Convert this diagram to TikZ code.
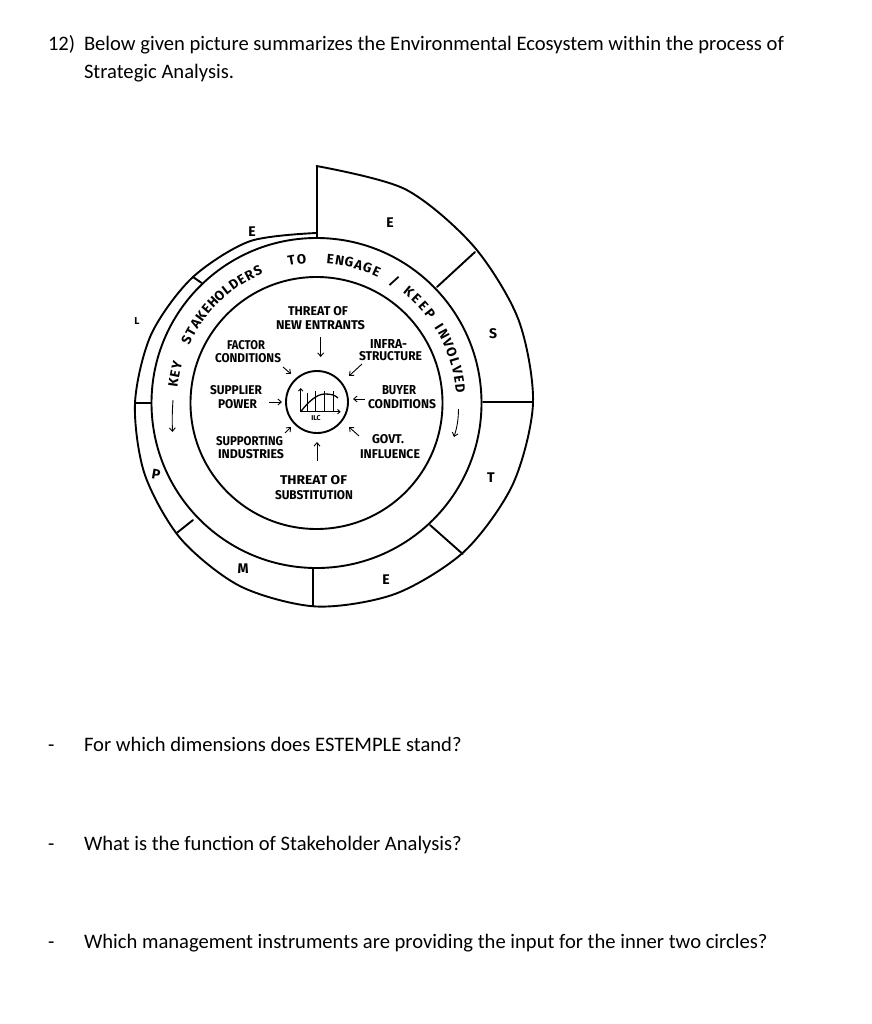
\documentclass[tikz,border=0pt]{standalone}
\usepackage{fontspec}
\usetikzlibrary{arrows.meta}
\setmainfont{Carlito}
\newfontfamily\hw{Fira Sans}
\newcommand{\hwlab}[5]{%
  \pgfmathsetmacro{\lblw}{#3-#2}%
  \pgfmathsetmacro{\lblx}{(#3+#2)/2}%
  \node[hand] (#1) at (\lblx,#4) {\resizebox{\lblw pt}{9pt}{\hw\bfseries #5}};}
\newcommand{\arcword}[5]{%
  \foreach \ch [count=\i from 0] in {#5} {
    \pgfmathsetmacro{\ang}{#2+(#3-#2)*\i/(#4-1)}
    \pgfmathsetmacro{\rot}{\ang-90}
    \node[ringletter,rotate=\rot] (#1\i) at ({316.5+144.5*cos(\ang)},{403-144.5*sin(\ang)}) {\ch};
  }}
\tikzset{
  ink/.style={line width=1.9pt,black,line join=round,line cap=round},
  thin ink/.style={line width=0.9pt,black,-{Straight Barb[length=3.5pt,width=6pt]}},
  hand/.style={inner sep=0pt,outer sep=0pt,anchor=center},
  body/.style={inner sep=0pt,outer sep=0pt,anchor=base west,font=\fontsize{20.6}{24}\selectfont},
  letter/.style={inner sep=0pt,font=\hw\bfseries\fontsize{14}{15}\selectfont},
  ringletter/.style={inner sep=0pt,font=\hw\bfseries\fontsize{13.5}{14}\selectfont}
}
\begin{document}
\begin{tikzpicture}[x=1pt,y=-1pt]
\useasboundingbox (0,0) rectangle (871,1024);
% text
\node[body] (q0) at (48,51) {12)};
\node[body] (q1) at (84,51) {Below given picture summarizes the Environmental Ecosystem within the process of};
\node[body] (q2) at (84,79) {Strategic Analysis.};
\node[body] (d1) at (48,751) {-};
\node[body] (a1) at (84,751) {For which dimensions does ESTEMPLE stand?};
\node[body] (d2) at (48,850) {-};
\node[body] (a2) at (84,850) {What is the function of Stakeholder Analysis?};
\node[body] (d3) at (48,948) {-};
\node[body] (a3) at (84,948) {Which management instruments are providing the input for the inner two circles?};
% circles
\coordinate (c) at (316.5,403);
\node[draw,ink,circle,minimum size=252pt,inner sep=0pt] (inner) at (316.5,403) {};
\node[draw,ink,circle,minimum size=330pt,inner sep=0pt] (middle) at (316.5,403) {};
\node[draw,ink,circle,minimum size=62pt,inner sep=0pt] (core) at (317,402) {};
% outer spiral
\begin{scope}[shift={(316.5,403)}]
\draw[ink] plot[smooth] coordinates {
 (-90:237) (-67.5:231.5) (-45:222) (-22.5:218.5) (0:216.5) (22.5:212.5) (45:209.5) (67.5:206.5)
 (90:203.5) (112.5:198.5) (135:192) (157.5:186) (180:181.5) (202.5:179) (225:176.5) (247.5:175) (270:170)};
\end{scope}
% dividers
\draw[ink] (317,166) -- (317,238);
\draw[ink] (475,252) -- (437,287);
\draw[ink] (483,402) -- (533,402);
\draw[ink] (430,525) -- (462.7,554);
\draw[ink] (313,568) -- (313,606);
\draw[ink] (193,520) -- (176.7,533);
\draw[ink] (135,403) -- (151,403);
\draw[ink] (193,277) -- (201.7,283);
% segment letters
\node[letter] (lE1) at (252,232) {E};
\node[letter] (lE2) at (390,223) {E};
\node[letter] (lS) at (493,334) {S};
\node[letter] (lT) at (491,478) {T};
\node[letter] (lE3) at (386,580) {E};
\node[letter] (lM) at (243,569) {M};
\node[letter,rotate=-10] (lP) at (156,474) {P};
\node[letter,font=\hw\bfseries\fontsize{10}{11}\selectfont] (lL) at (137,321) {L};
% ring words
\arcword{wa}{172}{165}{3}{K,E,Y}
\arcword{wb}{154}{114}{12}{S,T,A,K,E,H,O,L,D,E,R,S}
\arcword{wc}{100}{96}{2}{T,O}
\arcword{wd}{84.5}{65.5}{6}{E,N,G,A,G,E}
\node[ringletter,rotate=-33] (we) at ({316.5+144.5*cos(57.5)},{403-144.5*sin(57.5)}) {/};
\arcword{wf}{50.2}{38.2}{4}{K,E,E,P}
\arcword{wg}{32}{5.6}{8}{I,N,V,O,L,V,E,D}
% ring arrows
\coordinate (ra0) at (173,400); \coordinate (ra1) at (172.5,432);
\draw[thin ink] (ra0) to[bend right=3] (ra1);
\coordinate (rb0) at (458.5,409); \coordinate (rb1) at (454,437);
\draw[thin ink] (rb0) to[bend left=8] (rb1);
% labels
\hwlab{t1}{288}{348}{311}{THREAT OF}
\hwlab{t2}{276}{365}{325}{NEW ENTRANTS}
\hwlab{f1}{227}{265}{345}{FACTOR}
\hwlab{f2}{215}{281}{358}{CONDITIONS}
\hwlab{p1}{210}{262}{390}{SUPPLIER}
\hwlab{p2}{218}{257}{404}{POWER}
\hwlab{s1}{216}{283}{441}{SUPPORTING}
\hwlab{s2}{218}{284}{454}{INDUSTRIES}
\hwlab{u1}{280}{347}{480}{THREAT OF}
\hwlab{u2}{275}{353}{495}{SUBSTITUTION}
\hwlab{i1}{370}{407}{344}{INFRA-}
\hwlab{i2}{359}{422}{356}{STRUCTURE}
\hwlab{b1}{382}{416}{390}{BUYER}
\hwlab{b2}{368}{436}{404}{CONDITIONS}
\hwlab{g1}{372}{404}{439}{GOVT.}
\hwlab{g2}{360}{420}{454}{INFLUENCE}
% arrows toward the core
\coordinate (n0) at (320.7,337); \coordinate (n1) at (320.7,357);
\coordinate (f0) at (283,367); \coordinate (f3) at (291,374);
\coordinate (i0) at (362,364); \coordinate (i3) at (349,376);
\coordinate (b0) at (365,399); \coordinate (b3) at (353,399);
\coordinate (g0) at (359,436); \coordinate (g3) at (349,427);
\coordinate (u0) at (317,461); \coordinate (u3) at (317,442);
\coordinate (s0) at (285,433); \coordinate (s3) at (291,427);
\coordinate (p0) at (269,402); \coordinate (p3) at (282,402);
\foreach \a/\b in {n0/n1,f0/f3,i0/i3,b0/b3,g0/g3,u0/u3,s0/s3,p0/p3}
  \draw[thin ink] (\a) -- (\b);
% ILC chart
\coordinate (o) at (300.7,411.7);
\coordinate (ytop) at (300.7,388);
\coordinate (xend) at (340.7,411.7);
\draw[line width=0.9pt,-{Straight Barb[length=2.5pt,width=4.5pt]}] (o) -- (ytop);
\draw[line width=0.9pt,-{Straight Barb[length=2.5pt,width=4.5pt]}] (o) -- (xend);
\draw[line width=1.3pt] (o) .. controls (309,401) and (317,394) .. (325,394) .. controls (331,394) and (335,395) .. (338,398);
\foreach \vx/\vy in {307/393,315/391,324/391,333/391}
  \draw[line width=0.9pt] (\vx,411.7) -- (\vx,\vy);
\node[inner sep=0pt,font=\hw\bfseries\fontsize{7}{8}\selectfont] (ilc) at (316,418) {ILC};
\end{tikzpicture}
\end{document}
